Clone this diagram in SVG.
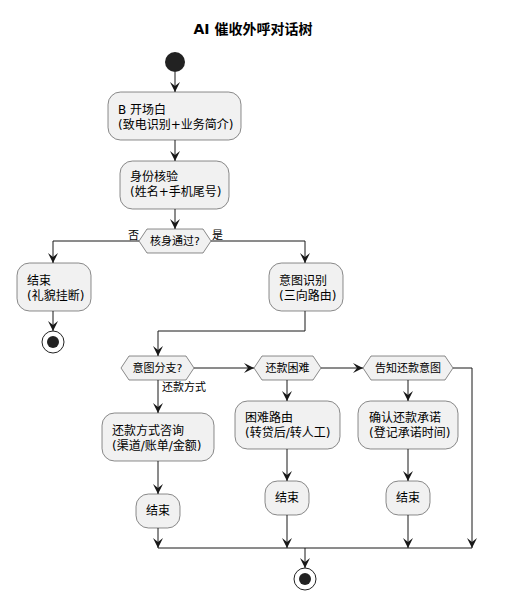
<svg xmlns="http://www.w3.org/2000/svg" width="506" height="609" viewBox="0 0 506 609">
<defs>
<marker id="ah" viewBox="0 0 10 10" refX="10" refY="5" markerWidth="10" markerHeight="10" markerUnits="userSpaceOnUse" orient="auto">
<path d="M0,0 L10,5 L0,10 L4,5 Z" fill="#181818"/>
</marker>
</defs>
<style>
text{font-family:"DejaVu Sans","Noto Sans CJK SC",sans-serif;fill:#000}
.t{font-size:12px}
.l{font-size:11px}
.c{text-anchor:middle}
.box{fill:#F1F1F1;stroke:#181818;stroke-width:0.5}
.ln{fill:none;stroke:#181818;stroke-width:1}
.arr{fill:none;stroke:#181818;stroke-width:1;marker-end:url(#ah)}
</style>
<rect width="506" height="609" fill="#FFFFFF"/>
<text x="253" y="34" class="c" style="font-size:14px;font-weight:bold">AI 催收外呼对话树</text>

<g id="connectors">
<path class="arr" d="M175,72 L175,92"/>
<path class="arr" d="M175,140 L175,161"/>
<path class="arr" d="M175,209 L175,229"/>
<path class="arr" d="M139,241 L53,241 L53,263"/>
<path class="arr" d="M211,241 L305,241 L305,263"/>
<path class="arr" d="M53,311 L53,331"/>
<path class="arr" d="M305,311 L305,331 L158,331 L158,356"/>
<path class="arr" d="M194,368 L254,368"/>
<path class="arr" d="M321,368 L363,368"/>
<path class="arr" d="M453,368 L472,368 L472,548"/>
<path class="arr" d="M158,380 L158,413"/>
<path class="arr" d="M158,461 L158,494"/>
<path class="arr" d="M158,528 L158,548"/>
<path class="arr" d="M287,380 L287,401"/>
<path class="arr" d="M287,449 L287,481"/>
<path class="arr" d="M287,515 L287,548"/>
<path class="arr" d="M408,380 L408,401"/>
<path class="arr" d="M408,449 L408,481"/>
<path class="arr" d="M408,515 L408,548"/>
<path class="ln" d="M158,548 L472,548"/>
<path class="arr" d="M305,548 L305,568"/>
<text x="128" y="239" class="l">否</text>
<text x="212" y="239" class="l">是</text>
<text x="162" y="391" class="l">还款方式</text>
</g>

<g id="start"><circle cx="175" cy="62" r="10" fill="#222222"/></g>

<g id="n1">
<rect class="box" x="108" y="92" width="133" height="48" rx="12.5"/>
<text x="118" y="114" class="t">B 开场白</text>
<text x="118" y="129" class="t">(致电识别+业务简介)</text>
</g>

<g id="n2">
<rect class="box" x="120" y="161" width="109" height="48" rx="12.5"/>
<text x="130" y="181" class="t">身份核验</text>
<text x="130" y="196" class="t">(姓名+手机尾号)</text>
</g>

<g id="d1">
<polygon class="box" points="139,241 147,229 203,229 211,241 203,253 147,253"/>
<text x="175" y="245" class="l c">核身通过?</text>
</g>

<g id="n3">
<rect class="box" x="17" y="263" width="74" height="48" rx="12.5"/>
<text x="27" y="285" class="t">结束</text>
<text x="27" y="300" class="t">(礼貌挂断)</text>
</g>

<g id="end1">
<circle cx="53" cy="342" r="11" fill="none" stroke="#222222" stroke-width="1"/>
<circle cx="53" cy="342" r="6" fill="#222222"/>
</g>

<g id="n4">
<rect class="box" x="269" y="263" width="74" height="48" rx="12.5"/>
<text x="279" y="285" class="t">意图识别</text>
<text x="279" y="300" class="t">(三向路由)</text>
</g>

<g id="d2">
<polygon class="box" points="121,368 129,356 186,356 194,368 186,380 129,380"/>
<text x="157.5" y="372" class="l c">意图分支?</text>
</g>

<g id="d3">
<polygon class="box" points="254,368 262,356 313,356 321,368 313,380 262,380"/>
<text x="287.5" y="372" class="l c">还款困难</text>
</g>

<g id="d4">
<polygon class="box" points="363,368 371,356 445,356 453,368 445,380 371,380"/>
<text x="408" y="372" class="l c">告知还款意图</text>
</g>

<g id="n5">
<rect class="box" x="102" y="413" width="112" height="48" rx="12.5"/>
<text x="112" y="435" class="t">还款方式咨询</text>
<text x="112" y="450" class="t">(渠道/账单/金额)</text>
</g>

<g id="n6">
<rect class="box" x="136" y="494" width="44" height="34" rx="12.5"/>
<text x="158" y="515" class="t c">结束</text>
</g>

<g id="n7">
<rect class="box" x="235" y="401" width="105" height="48" rx="12.5"/>
<text x="245" y="422" class="t">困难路由</text>
<text x="245" y="437" class="t">(转贷后/转人工)</text>
</g>

<g id="n8">
<rect class="box" x="265" y="481" width="44" height="34" rx="12.5"/>
<text x="287" y="502" class="t c">结束</text>
</g>

<g id="n9">
<rect class="box" x="358" y="401" width="100" height="48" rx="12.5"/>
<text x="369" y="422" class="t">确认还款承诺</text>
<text x="369" y="437" class="t">(登记承诺时间)</text>
</g>

<g id="n10">
<rect class="box" x="386" y="481" width="44" height="34" rx="12.5"/>
<text x="408" y="502" class="t c">结束</text>
</g>

<g id="end2">
<circle cx="305" cy="579" r="11" fill="none" stroke="#222222" stroke-width="1"/>
<circle cx="305" cy="579" r="6" fill="#222222"/>
</g>
</svg>
